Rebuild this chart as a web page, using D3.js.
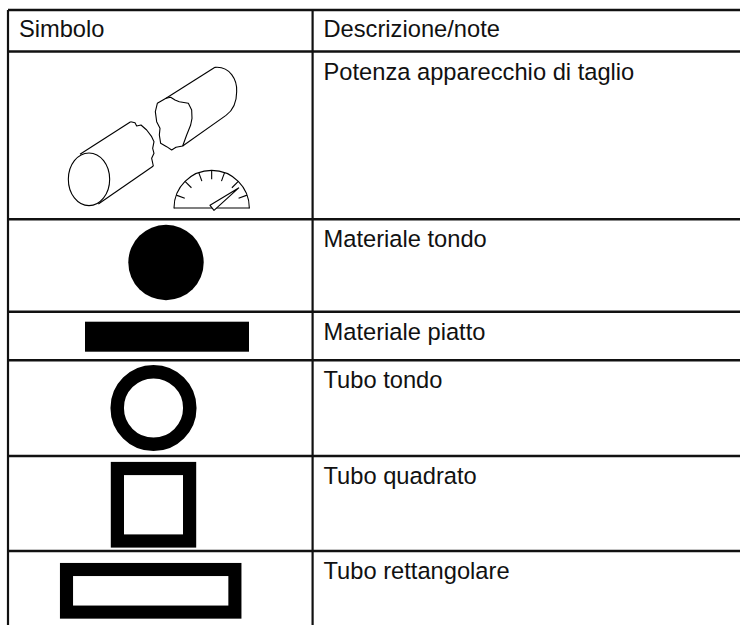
<!DOCTYPE html>
<html>
<head>
<meta charset="utf-8">
<script src="https://cdn.jsdelivr.net/npm/d3@7"></script>
<style>
  html, body { margin: 0; padding: 0; background: #fff; }
  svg { display: block; }
  text { font-family: "Liberation Sans", Arial, sans-serif; font-size: 23.7px; fill: #111; }
</style>
</head>
<body>
<div id="chart"></div>
<script>
// table content
var headers = ['Simbolo', 'Descrizione/note']
var descriptions = ['Potenza apparecchio di taglio', 'Materiale tondo', 'Materiale piatto', 'Tubo tondo', 'Tubo quadrato', 'Tubo rettangolare']
var rowEdges = [10, 51.5, 219.3, 311.7, 360.3, 456, 551]
var columnEdges = [8, 312.6]

// outlines of the cutting icon
var brokenEnd = [[272, 215], [285, 218], [290, 228], [303, 225], [320, 240], [335, 260], [342, 275], [338, 295], [342, 310], [335, 325], [340, 348]]
var brokenFace = [[378, 145], [392, 142], [405, 150], [418, 155], [445, 160], [455, 180], [456, 205], [452, 225], [440, 255], [428, 288], [408, 292], [395, 300], [380, 290], [362, 280], [358, 255], [360, 235], [350, 215], [346, 185], [352, 160], [378, 145]]
var gaugeTicks = [-70, -45, -20, 0, 20, 45, 70]
var needle = [[597, 413], [510, 466], [522, 481], [597, 413]]

var svgWidth = 740
var svgHeight = 625

var svg = d3.select('#chart')
  .append('svg')
  .attr('width', svgWidth)
  .attr('height', svgHeight)

svg.append('rect')
  .attr('width', svgWidth)
  .attr('height', svgHeight)
  .attr('fill', '#fff')

// grid lines
svg.selectAll('.row-line')
  .data(rowEdges)
  .enter()
  .append('line')
  .attr('class', 'row-line')
  .attr('x1', columnEdges[0])
  .attr('x2', svgWidth)
  .attr('y1', d => d)
  .attr('y2', d => d)
  .attr('stroke', '#111')
  .attr('stroke-width', 2.6)

svg.selectAll('.col-line')
  .data(columnEdges)
  .enter()
  .append('line')
  .attr('class', 'col-line')
  .attr('x1', d => d)
  .attr('x2', d => d)
  .attr('y1', rowEdges[0])
  .attr('y2', svgHeight)
  .attr('stroke', '#111')
  .attr('stroke-width', 2.2)

// texts
svg.selectAll('.head')
  .data(headers)
  .enter()
  .append('text')
  .attr('class', 'head')
  .attr('x', (d, i) => columnEdges[i] + 10.9)
  .attr('y', 37)
  .text(d => d)

svg.selectAll('.desc')
  .data(descriptions)
  .enter()
  .append('text')
  .attr('class', 'desc')
  .attr('x', columnEdges[1] + 10.9)
  .attr('y', (d, i) => rowEdges[i + 1] + 28)
  .text(d => d)

// solid and hollow symbols
svg.append('circle').attr('cx', 166).attr('cy', 262.5).attr('r', 37.7).attr('fill', '#000')
svg.append('rect').attr('x', 85).attr('y', 321.7).attr('width', 164).attr('height', 30).attr('fill', '#000')

svg.append('circle').attr('cx', 153.5).attr('cy', 408).attr('r', 36.3)
  .attr('fill', 'none').attr('stroke', '#000').attr('stroke-width', 13.5)

svg.append('rect').attr('x', 117.4).attr('y', 468.5).attr('width', 72.2).attr('height', 72.5)
  .attr('fill', 'none').attr('stroke', '#000').attr('stroke-width', 13.2)

svg.append('rect').attr('x', 66.5).attr('y', 569.5).attr('width', 168.4).attr('height', 42.6)
  .attr('fill', 'none').attr('stroke', '#000').attr('stroke-width', 13.1)

// cutting icon, traced in a 3x crop so map it back with scales
var x = d3.scaleLinear().domain([0, 720]).range([40, 280])
var y = d3.scaleLinear().domain([0, 510]).range([50, 220])

var line = d3.line()
  .x(d => x(d[0]))
  .y(d => y(d[1]))

var icon = svg.append('g')
  .attr('fill', 'none')
  .attr('stroke', '#000')
  .attr('stroke-width', 1.1)
  .attr('stroke-linejoin', 'round')

// left piece
icon.append('ellipse')
  .attr('cx', x(147))
  .attr('cy', y(388))
  .attr('rx', x(209) - x(147))
  .attr('ry', y(467) - y(388))

icon.append('path').attr('d', line([[120, 313], [272, 215]]))
icon.append('path').attr('d', line([[175, 462], [340, 348]]))
icon.append('path').attr('d', line(brokenEnd))

// right piece
icon.append('path').attr('d', line(brokenFace))
icon.append('path').attr('d', line([[378, 145], [525, 52]]))
icon.append('path').attr('d', line([[428, 288], [558, 196]]))

var bodyArc = d3.path()
bodyArc.moveTo(x(525), y(52))
bodyArc.bezierCurveTo(x(570), y(48), x(592), y(90), x(590), y(125))
bodyArc.bezierCurveTo(x(590), y(155), x(580), y(180), x(558), y(196))
icon.append('path').attr('d', bodyArc.toString())

// gauge
var gaugeCx = x(515)
var gaugeCy = y(474)
var gaugeR = x(628) - x(515)

icon.append('path')
  .attr('d', d3.arc()({
    innerRadius: gaugeR,
    outerRadius: gaugeR,
    startAngle: -Math.PI / 2,
    endAngle: Math.PI / 2
  }))
  .attr('transform', `translate(${gaugeCx}, ${gaugeCy})`)

icon.append('path').attr('d', line([[402, 474], [628, 474]]))

icon.selectAll('.gauge-tick')
  .data(gaugeTicks)
  .enter()
  .append('line')
  .attr('class', 'gauge-tick')
  .attr('x1', d => gaugeCx + gaugeR * Math.sin(d * Math.PI / 180))
  .attr('y1', d => gaugeCy - gaugeR * Math.cos(d * Math.PI / 180))
  .attr('x2', d => gaugeCx + gaugeR * 0.76 * Math.sin(d * Math.PI / 180))
  .attr('y2', d => gaugeCy - gaugeR * 0.76 * Math.cos(d * Math.PI / 180))

icon.append('path')
  .attr('d', line(needle))
  .attr('fill', '#fff')
</script>
</body>
</html>
